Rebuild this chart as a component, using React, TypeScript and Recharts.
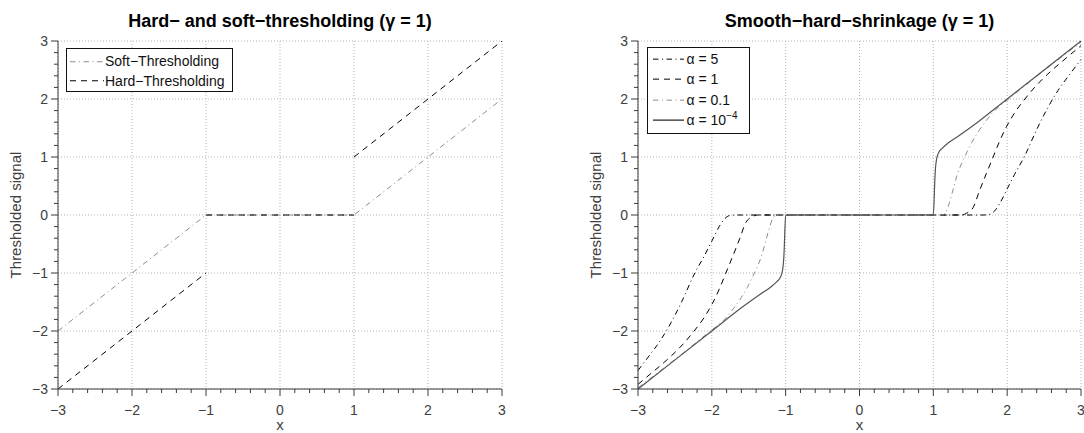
import type { ReactNode } from "react";
import { CartesianGrid, Legend, Line, LineChart, XAxis, YAxis } from "recharts";

const FONT = '"Liberation Sans", Arial, Helvetica, sans-serif';
const AXIS = "#3a3a3a";
const TICK_TEXT = "#404040";

type Pt = [number, number | null];

// axis ticks (major labelled, minor every 0.2)
const majorTicks = [-3, -2, -1, 0, 1, 2, 3];
const axisTicks = majorTicks
  .slice(0, -1)
  .flatMap((m) => [0, 1, 2, 3, 4].map((k) => Math.round((m + k * 0.2) * 10) / 10))
  .concat(3);

// left panel: hard- and soft-thresholding
const softThresholding: Pt[] = [[-3, -2], [-1, 0], [1, 0], [3, 2]];
const hardThresholding: Pt[] = [
  [-3, -3], [-1, -1], [-1, null], [-1, 0], [1, 0], [1, null], [1, 1], [3, 3],
];

// right panel: smooth-hard-shrinkage
const alpha5: Pt[] = [
  [-3, -2.68], [-2.85, -2.43], [-2.69, -2.15], [-2.55, -1.85], [-2.41, -1.5], [-2.23, -1],
  [-2.1, -0.7], [-2, -0.45], [-1.9, -0.2], [-1.83, -0.07], [-1.76, -0.01], [-1.68, 0],
  [1.68, 0], [1.76, 0.01], [1.83, 0.07], [1.9, 0.2], [2, 0.45], [2.1, 0.7],
  [2.23, 1], [2.41, 1.5], [2.55, 1.85], [2.69, 2.15], [2.85, 2.43], [3, 2.68],
];
const alpha1: Pt[] = [
  [-3, -2.92], [-2.85, -2.76], [-2.7, -2.6], [-2.55, -2.43], [-2.4, -2.24], [-2.24, -2],
  [-2.1, -1.76], [-1.99, -1.52], [-1.9, -1.28], [-1.81, -1], [-1.72, -0.72], [-1.62, -0.4],
  [-1.54, -0.13], [-1.45, -0.03], [-1.38, 0],
  [1.38, 0], [1.45, 0.03], [1.54, 0.13], [1.62, 0.4], [1.72, 0.72], [1.81, 1],
  [1.9, 1.28], [1.99, 1.52], [2.1, 1.76], [2.24, 2], [2.4, 2.24], [2.55, 2.43],
  [2.7, 2.6], [2.85, 2.76], [3, 2.92],
];
const alpha01: Pt[] = [
  [-3, -2.98], [-2.6, -2.59], [-2.3, -2.29], [-2, -1.98], [-1.9, -1.88], [-1.8, -1.76],
  [-1.7, -1.6], [-1.6, -1.42], [-1.52, -1.25], [-1.45, -1.07], [-1.38, -0.88], [-1.32, -0.68],
  [-1.27, -0.45], [-1.22, -0.22], [-1.17, -0.05], [-1.12, 0],
  [1.12, 0], [1.17, 0.05], [1.22, 0.22], [1.27, 0.45], [1.32, 0.68], [1.38, 0.88],
  [1.45, 1.07], [1.52, 1.25], [1.6, 1.42], [1.7, 1.6], [1.8, 1.76], [1.9, 1.88],
  [2, 1.98], [2.3, 2.29], [2.6, 2.59], [3, 2.98],
];
const alpha1e4: Pt[] = [
  [-3, -3], [-2, -2], [-1.6, -1.6], [-1.35, -1.37], [-1.2, -1.24], [-1.12, -1.15],
  [-1.07, -1.07], [-1.045, -0.97], [-1.03, -0.82], [-1.02, -0.6], [-1.012, -0.3], [-1, 0],
  [1, 0], [1.012, 0.3], [1.02, 0.6], [1.03, 0.82], [1.045, 0.97], [1.07, 1.07],
  [1.12, 1.15], [1.2, 1.24], [1.35, 1.37], [1.6, 1.6], [2, 2], [3, 3],
];

type Series = {
  key: string;
  label: ReactNode;
  points: Pt[];
  stroke: string;
  dash?: string;
  width: number;
  curve: "linear" | "monotone";
};

const DASHDOT = "5.5 3.5 1 3.5";
const DASHED = "6 5";

const leftSeries: Series[] = [
  { key: "soft", label: "Soft\u2212Thresholding", points: softThresholding, stroke: "#8c8c8c", dash: DASHDOT, width: 1, curve: "linear" },
  { key: "hard", label: "Hard\u2212Thresholding", points: hardThresholding, stroke: "#000", dash: DASHED, width: 1, curve: "linear" },
];

const rightSeries: Series[] = [
  { key: "a5", label: "\u03b1 = 5", points: alpha5, stroke: "#000", dash: DASHDOT, width: 1, curve: "monotone" },
  { key: "a1", label: "\u03b1 = 1", points: alpha1, stroke: "#000", dash: DASHED, width: 1, curve: "monotone" },
  { key: "a01", label: "\u03b1 = 0.1", points: alpha01, stroke: "#8c8c8c", dash: DASHDOT, width: 1, curve: "monotone" },
  {
    key: "a1e4",
    label: (
      <>
        {"\u03b1 = 10"}
        <sup style={{ fontSize: 10, lineHeight: 0 }}>{"\u22124"}</sup>
      </>
    ),
    points: alpha1e4,
    stroke: "#555",
    width: 1.2,
    curve: "monotone",
  },
];

const toRows = (pts: Pt[]) => pts.map(([x, y]) => ({ x, y }));
const fmt = (v: number) => (v < 0 ? "\u2212" + Math.abs(v) : String(v));

function XTick(props: any) {
  const { x, y, payload } = props;
  const major = Number.isInteger(payload.value);
  return (
    <g>
      <line x1={x} x2={x} y1={y} y2={y + (major ? 7 : 4)} stroke={AXIS} strokeWidth={1} />
      {major && (
        <text x={x} y={y + 26} textAnchor="middle" fontSize={14} fill={TICK_TEXT} fontFamily={FONT}>
          {fmt(payload.value)}
        </text>
      )}
    </g>
  );
}

function YTick(props: any) {
  const { x, y, payload } = props;
  const major = Number.isInteger(payload.value);
  return (
    <g>
      <line x1={x - (major ? 7 : 4)} x2={x} y1={y} y2={y} stroke={AXIS} strokeWidth={1} />
      {major && (
        <text x={x - 10} y={y + 5} textAnchor="end" fontSize={14} fill={TICK_TEXT} fontFamily={FONT}>
          {fmt(payload.value)}
        </text>
      )}
    </g>
  );
}

function YLabel({ cx }: { cx: number }) {
  const cy = 215;
  return (
    <text
      x={cx}
      y={cy}
      dy={5}
      transform={`rotate(-90 ${cx} ${cy})`}
      textAnchor="middle"
      fontSize={15}
      fill={TICK_TEXT}
      fontFamily={FONT}
    >
      Thresholded signal
    </text>
  );
}

type LegendLayout = {
  left: number;
  top: number;
  width: number;
  height: number;
  rowH: number;
  padTop: number;
  sampleLeft: number;
  sampleW: number;
  gap: number;
};

function LegendBox({ series, lay }: { series: Series[]; lay: LegendLayout }) {
  return (
    <div
      style={{
        boxSizing: "border-box",
        width: lay.width,
        height: lay.height,
        border: "1.5px solid #111",
        background: "#fff",
        paddingTop: lay.padTop,
        fontFamily: FONT,
        fontSize: 14,
        color: "#111",
      }}
    >
      {series.map((s) => (
        <div key={s.key} style={{ display: "flex", alignItems: "center", height: lay.rowH, whiteSpace: "nowrap" }}>
          <svg width={lay.sampleW} height={lay.rowH} style={{ marginLeft: lay.sampleLeft, marginRight: lay.gap, flex: "none" }}>
            <line
              x1={0}
              x2={lay.sampleW}
              y1={lay.rowH / 2}
              y2={lay.rowH / 2}
              stroke={s.stroke}
              strokeWidth={s.key === "a1e4" ? 1.6 : 1}
              strokeDasharray={s.dash}
            />
          </svg>
          <span>{s.label}</span>
        </div>
      ))}
    </div>
  );
}

type PanelProps = {
  left: number;
  title: ReactNode;
  series: Series[];
  yAxisWidth: number;
  marginRight: number;
  labelX: number;
  legend: LegendLayout;
};

function Panel({ left, title, series, yAxisWidth, marginRight, labelX, legend }: PanelProps) {
  const plotLeft = yAxisWidth;
  const plotWidth = 542 - yAxisWidth - marginRight;
  return (
    <div style={{ position: "absolute", left, top: 0, width: 542, height: 433 }}>
      <div
        style={{
          position: "absolute",
          left: plotLeft - 60,
          width: plotWidth + 120,
          top: 12,
          lineHeight: "18px",
          textAlign: "center",
          fontFamily: FONT,
          fontWeight: 700,
          fontSize: 18,
          color: "#000",
          zIndex: 2,
        }}
      >
        {title}
      </div>
      <LineChart width={542} height={433} margin={{ top: 41, right: marginRight, bottom: 3, left: 0 }}>
        <CartesianGrid
          stroke="#b4b4b4"
          strokeDasharray="1 2"
          horizontalValues={majorTicks}
          verticalValues={majorTicks}
        />
        <XAxis
          dataKey="x"
          type="number"
          domain={[-3, 3]}
          ticks={axisTicks}
          interval={0}
          height={41}
          stroke={AXIS}
          tickLine={false}
          tickSize={0}
          tickMargin={0}
          tick={(p: any) => <XTick {...p} />}
          label={{ value: "x", position: "insideBottom", offset: 0, fill: TICK_TEXT, fontSize: 15, fontFamily: FONT }}
        />
        <YAxis
          type="number"
          domain={[-3, 3]}
          ticks={axisTicks}
          interval={0}
          width={yAxisWidth}
          stroke={AXIS}
          tickLine={false}
          tickSize={0}
          tickMargin={0}
          tick={(p: any) => <YTick {...p} />}
          label={() => <YLabel cx={labelX} />}
        />
        {series.map((s) => (
          <Line
            key={s.key}
            data={toRows(s.points)}
            dataKey="y"
            name={s.key}
            type={s.curve}
            stroke={s.stroke}
            strokeWidth={s.width}
            strokeDasharray={s.dash}
            dot={false}
            activeDot={false}
            isAnimationActive={false}
          />
        ))}
        <Legend
          layout="vertical"
          align="center"
          verticalAlign="middle"
          wrapperStyle={{ left: legend.left, top: legend.top, width: "auto", height: "auto" }}
          content={() => <LegendBox series={series} lay={legend} />}
        />
      </LineChart>
    </div>
  );
}

export default function App() {
  return (
    <div style={{ position: "absolute", left: 0, top: 0, width: 1084, height: 433, background: "#fff", overflow: "hidden" }}>
      <Panel
        left={0}
        title={"Hard\u2212 and soft\u2212thresholding (\u03b3 = 1)"}
        series={leftSeries}
        yAxisWidth={58}
        marginRight={40}
        labelX={16}
        legend={{ left: 66, top: 48, width: 167, height: 44, rowH: 19.5, padTop: 2.5, sampleLeft: 2.5, sampleW: 34, gap: 1.5 }}
      />
      <Panel
        left={542}
        title={"Smooth\u2212hard\u2212shrinkage (\u03b3 = 1)"}
        series={rightSeries}
        yAxisWidth={96}
        marginRight={3}
        labelX={54}
        legend={{ left: 105, top: 47, width: 103, height: 87, rowH: 20.3, padTop: 1, sampleLeft: 4.5, sampleW: 31, gap: 3 }}
      />
    </div>
  );
}
